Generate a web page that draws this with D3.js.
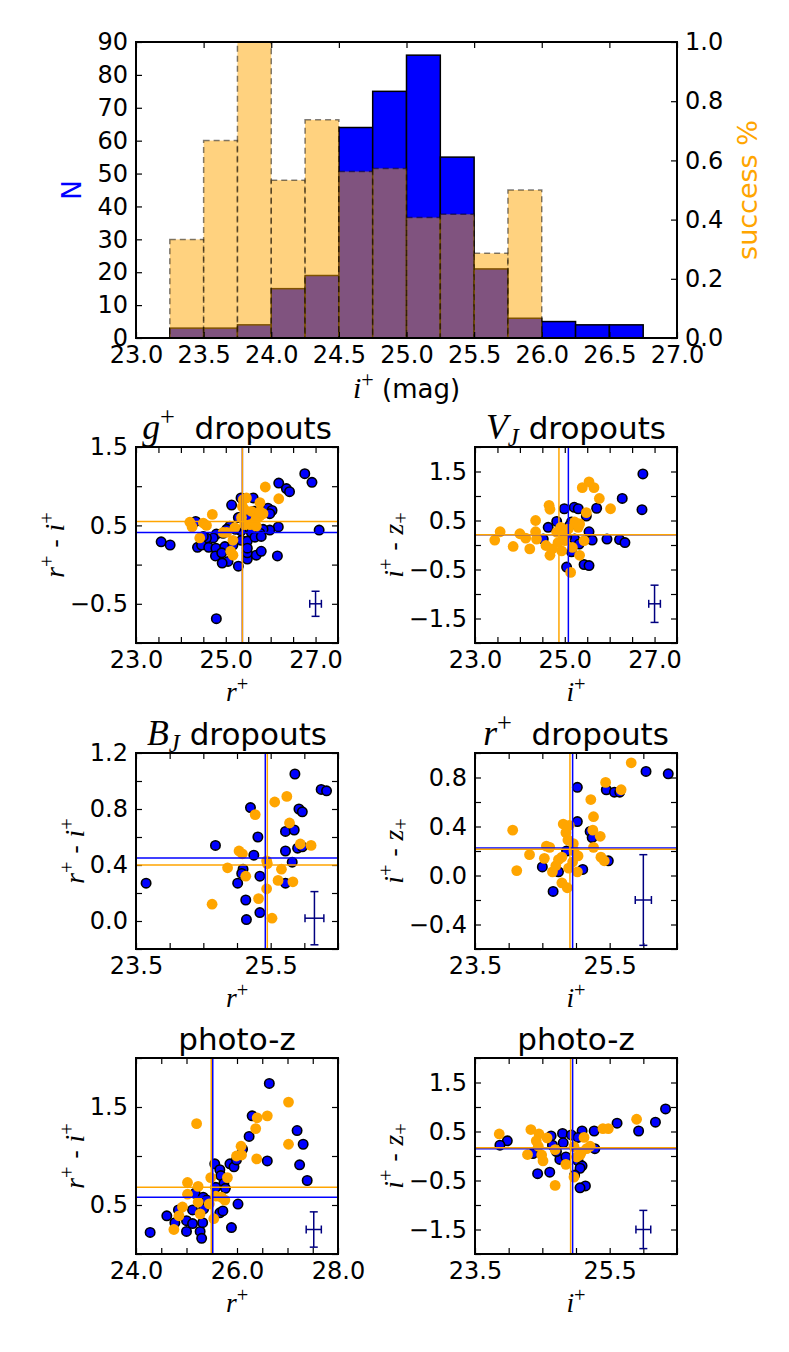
<!DOCTYPE html>
<html>
<head>
<meta charset="utf-8">
<script src="https://cdn.jsdelivr.net/npm/d3@7"></script>
<style>
body { margin: 0; background: #fff; }
svg { display: block; font-family: "DejaVu Sans", sans-serif; }
text { white-space: pre; }
.tick text { font-size: 24px; fill: #000; font-family: "DejaVu Sans", sans-serif; }
.tick line { stroke: #000; stroke-width: 1.2; }
</style>
</head>
<body>
<svg id="fig" width="789" height="1352"></svg>
<script>
// ---- histogram: i+ magnitude bins (left edge), counts and success fraction
var histBins = [23.25, 23.5, 23.75, 24.0, 24.25, 24.5, 24.75, 25.0, 25.25, 25.5, 25.75, 26.0, 26.25, 26.5];
var histBinWidth = 0.25;
var histN = [3, 3, 4, 15, 19, 64, 75, 86, 55, 21, 6, 5, 4, 4];
var histSuccess = [0.333, 0.667, 1.0, 0.533, 0.737, 0.5625, 0.573, 0.407, 0.418, 0.286, 0.5, 0, 0, 0];
var histXTicks = [23.0, 23.5, 24.0, 24.5, 25.0, 25.5, 26.0, 26.5, 27.0];
var histNTicks = [0, 10, 20, 30, 40, 50, 60, 70, 80, 90];
var histSTicks = [0.0, 0.2, 0.4, 0.6, 0.8, 1.0];

// ---- g+ dropouts (r+ vs r+ - i+)
var gdropBlue = [[26.76,1.16],[26.92,1.05],[26.18,1.04],[26.35,0.97],[26.42,0.93],[25.34,0.85],[25.13,0.76],[25.61,0.85],
  [25.94,0.72],[26.03,0.69],[25.98,0.65],[25.76,0.64],[25.63,0.68],[25.50,0.59],[25.28,0.60],[27.08,0.44],[26.17,0.48],
  [25.98,0.44],[25.83,0.45],[25.76,0.40],[25.57,0.41],[25.34,0.43],[25.22,0.45],[25.09,0.49],[25.02,0.45],[24.94,0.40],
  [24.79,0.39],[24.72,0.34],[24.57,0.34],[24.50,0.36],[24.33,0.55],[23.56,0.29],[23.76,0.25],[24.37,0.22],[24.46,0.25],
  [24.62,0.22],[24.78,0.21],[24.98,0.23],[25.16,0.25],[25.35,0.31],[25.48,0.30],[25.65,0.35],[25.79,0.36],[24.77,0.11],
  [24.91,0.15],[25.05,0.04],[24.92,0.02],[25.28,-0.02],[25.48,0.07],[25.48,0.15],[25.68,0.12],[25.79,0.17],[26.15,0.11],
  [24.79,-0.69],[25.48,0.21]];
var gdropOrange = [[25.88,0.99],[26.18,0.84],[25.76,0.79],[25.39,0.83],[25.46,0.85],[25.42,0.70],[25.57,0.68],[25.37,0.74],
  [25.68,0.59],[25.76,0.62],[25.65,0.55],[25.54,0.51],[25.42,0.51],[25.68,0.49],[25.35,0.60],[24.70,0.64],[24.20,0.54],
  [24.25,0.48],[24.50,0.53],[24.57,0.50],[25.20,0.47],[25.02,0.41],[25.16,0.31],[24.42,0.34],[25.11,0.17],[25.16,0.12],
  [25.76,0.68],[25.83,0.65],[24.94,0.41]];
var gdropMedians = { blueX: 25.37, blueY: 0.41, orangeX: 25.37, orangeY: 0.55 };
var gdropErr = [27.0, -0.5, 0.13, 0.16];

// ---- V_J dropouts (i+ vs i+ - z+)
var vjBlue = [[26.74,1.45],[26.72,0.72],[26.28,0.95],[25.71,0.75],[25.21,0.77],[25.30,0.74],[24.99,0.74],[25.48,0.59],
  [25.54,0.27],[25.15,0.47],[24.63,0.36],[24.82,0.48],[24.89,0.29],[25.94,0.12],[25.61,0.10],[26.22,0.11],[26.34,0.05],
  [25.22,0.12],[25.32,0.02],[25.15,-0.14],[25.43,-0.40],[25.54,-0.42],[25.04,-0.45],[24.52,0.12],[25.04,0.16],[25.11,0.40]];
var vjOrange = [[23.44,0.10],[23.56,0.27],[23.85,-0.03],[24.00,0.23],[24.13,0.14],[24.22,-0.08],[24.35,0.27],[24.37,0.12],
  [24.35,0.50],[24.65,0.81],[24.67,0.73],[24.58,-0.01],[24.67,-0.21],[24.72,-0.08],[24.82,0.26],[24.91,0.36],[24.96,0.19],
  [24.93,-0.12],[25.00,0.09],[24.85,0.05],[25.08,0.33],[25.17,-0.05],[25.22,0.47],[25.33,0.43],[25.39,1.17],[25.54,1.29],
  [25.65,1.17],[25.77,0.95],[26.02,0.74],[25.48,0.66],[25.33,-0.21],[25.13,-0.56],[25.43,0.09],[25.30,0.36]];
var vjMedians = { blueX: 25.08, blueY: 0.21, orangeX: 24.87, orangeY: 0.21 };
var vjErr = [27.0, -1.2, 0.13, 0.38];

// ---- B_J dropouts (r+ vs r+ - i+)
var bjBlue = [[23.65,0.27],[24.68,0.54],[25.20,0.81],[25.31,0.60],[25.25,0.47],[25.09,0.37],[25.07,0.34],[25.01,0.27],
  [25.34,0.32],[25.13,0.15],[25.14,0.01],[25.34,0.06],[25.86,1.05],[26.25,0.94],[26.33,0.93],[25.92,0.80],[25.97,0.78],
  [25.72,0.64],[25.85,0.65],[25.90,0.52],[25.97,0.53],[25.72,0.50],[25.82,0.42],[25.72,0.27]];
var bjOrange = [[24.63,0.12],[24.86,0.38],[25.03,0.50],[25.08,0.48],[25.13,0.32],[25.27,0.76],[25.32,0.16],[25.44,0.43],
  [25.45,0.41],[25.44,0.23],[25.52,0.02],[25.56,0.85],[25.74,0.89],[25.78,0.70],[25.66,0.37],[25.61,0.29],[25.83,0.28],
  [25.94,0.55],[26.10,0.54]];
var bjMedians = { blueX: 25.42, blueY: 0.45, orangeX: 25.45, orangeY: 0.40 };
var bjErr = [26.15, 0.02, 0.14, 0.19];

// ---- r+ dropouts (i+ vs i+ - z+)
var rdropBlue = [[26.04,0.85],[26.37,0.83],[25.02,0.72],[25.45,0.70],[25.57,0.68],[25.65,0.68],[25.02,0.44],[25.21,0.36],
  [25.24,0.31],[24.50,0.07],[24.74,0.03],[25.10,0.05],[25.48,0.12],[24.66,-0.13],[24.86,0.20]];
var rdropOrange = [[24.06,0.37],[24.12,0.04],[24.31,0.17],[24.53,0.14],[24.56,0.24],[24.61,0.23],[24.65,0.03],[24.70,0.08],
  [24.74,0.13],[24.79,0.15],[24.79,-0.06],[24.81,0.42],[24.85,0.35],[24.87,-0.10],[24.89,0.06],[24.88,0.29],[24.95,0.11],
  [24.96,0.26],[24.90,0.41],[24.97,0.20],[25.03,0.16],[25.02,0.03],[25.22,0.62],[25.26,0.48],[25.25,0.37],[25.26,0.23],
  [25.36,0.32],[25.37,0.15],[25.42,0.12],[25.44,0.76],[25.67,0.70],[25.82,0.92]];
var rdropMedians = { blueX: 24.95, blueY: 0.225, orangeX: 24.91, orangeY: 0.215 };
var rdropErr = [26.0, -0.2, 0.12, 0.37];

// ---- photo-z (r+ vs r+ - i+)
var pzLeftBlue = [[24.28,0.22],[24.61,0.39],[24.77,0.32],[24.84,0.45],[25.00,0.34],[25.00,0.23],[25.12,0.31],[25.12,0.45],
  [25.27,0.23],[25.30,0.16],[25.32,0.32],[25.34,0.46],[25.17,0.62],[25.33,0.58],[25.56,0.92],[25.66,0.86],[25.68,0.80],
  [25.74,0.72],[25.77,0.67],[25.58,0.68],[25.86,0.92],[25.94,0.89],[25.99,0.96],[26.02,0.51],[25.66,0.42],[25.72,0.44],
  [25.89,0.27],[26.24,1.20],[26.30,1.41],[26.64,1.74],[26.60,0.95],[27.19,1.26],[27.31,1.12],[27.24,0.91],[27.39,0.75],
  [26.11,1.07],[25.40,0.55]];
var pzLeftOrange = [[24.75,0.25],[24.85,0.39],[24.92,0.48],[25.02,0.73],[25.02,0.61],[25.20,1.33],[25.23,0.69],[25.23,0.53],
  [25.27,0.41],[25.45,0.51],[25.48,0.78],[25.54,0.36],[25.58,0.59],[25.69,0.58],[25.76,0.55],[25.81,0.78],[25.99,1.00],
  [26.09,1.01],[26.08,1.10],[26.37,1.28],[26.39,0.97],[26.40,1.39],[26.60,1.41],[27.02,1.55],[27.02,1.12]];
var pzLeftMedians = { blueX: 25.52, blueY: 0.58, orangeX: 25.49, orangeY: 0.68 };
var pzLeftErr = [27.52, 0.25, 0.15, 0.18];

// ---- photo-z (i+ vs i+ - z+)
var pzRightBlue = [[26.33,0.96],[26.18,0.69],[25.93,0.51],[25.61,0.67],[25.27,0.51],[25.09,0.51],[24.80,0.46],[24.93,0.43],
  [25.03,0.38],[24.63,0.41],[23.98,0.31],[23.87,0.22],[24.36,0.05],[24.65,0.22],[24.81,0.27],[25.28,0.15],[24.76,-0.07],
  [24.85,-0.02],[25.03,-0.10],[25.09,-0.20],[25.06,-0.25],[24.43,-0.36],[24.61,-0.33],[25.14,-0.61],[25.06,-0.65],
  [24.98,-0.39],[24.71,0.09]];
var pzRightOrange = [[23.86,0.45],[24.33,0.54],[24.45,0.45],[24.41,0.31],[24.44,0.20],[24.28,0.03],[24.49,0.02],[24.51,-0.10],
  [24.57,0.37],[24.69,0.13],[24.85,-0.17],[24.97,-0.43],[24.69,-0.60],[25.01,-0.02],[25.06,0.02],[25.12,0.38],[25.16,0.15],
  [25.21,0.20],[25.40,0.56],[25.48,0.56],[25.90,0.75],[24.97,0.19],[25.08,0.08]];
var pzRightMedians = { blueX: 24.95, blueY: 0.15, orangeX: 24.92, orangeY: 0.17 };
var pzRightErr = [26.0, -1.5, 0.11, 0.39];

// ---- axis ticks / labels for the scatter panels
var xTicksA = [23.0, 23.5, 24.0, 24.5, 25.0, 25.5, 26.0, 26.5, 27.0, 27.5], xLabelsA = [23.0, 25.0, 27.0];
var xTicksB = [23.5, 24.0, 24.5, 25.0, 25.5, 26.0, 26.5], xLabelsB = [23.5, 25.5];
var xTicksC = [24.0, 24.5, 25.0, 25.5, 26.0, 26.5, 27.0, 27.5, 28.0], xLabelsC = [24.0, 26.0, 28.0];
var yTicksG = [-1.0, -0.5, 0.0, 0.5, 1.0, 1.5], yLabelsG = [-0.5, 0.5, 1.5];
var yTicksW = [-2.0, -1.5, -1.0, -0.5, 0.0, 0.5, 1.0, 1.5, 2.0], yLabelsW = [-1.5, -0.5, 0.5, 1.5];
var yTicksBJ = [-0.2, 0.0, 0.2, 0.4, 0.6, 0.8, 1.0, 1.2], yLabelsBJ = [0.0, 0.4, 0.8, 1.2];
var yTicksR = [-0.6, -0.4, -0.2, 0.0, 0.2, 0.4, 0.6, 0.8, 1.0], yLabelsR = [-0.4, 0.0, 0.4, 0.8];
var yTicksPZ = [0.0, 0.5, 1.0, 1.5, 2.0], yLabelsPZ = [0.5, 1.5];

var BLUE = "#0000ff", ORANGE = "#ffa500", NAVY = "#000080";
var MATH = "'Liberation Serif', 'DejaVu Serif', serif";
var svg = d3.select("#fig");
var fmt = d3.format(".1f");
var TICK = 6;

function has(list, v) { return list.some(function (l) { return Math.abs(l - v) < 1e-6; }); }

// text with simple math bits: [string, kind] kind: n normal, m math italic, sup, sub, msub
function mathText(sel, parts, size) {
  var shift = 0;
  parts.forEach(function (p) {
    var kind = p[1] || "n";
    var t = sel.append("tspan").text(p[0]);
    var target = 0;
    if (kind === "sup") target = -0.42 * size;
    if (kind === "sub" || kind === "msub") target = 0.22 * size;
    if (target - shift !== 0) t.attr("dy", target - shift);
    shift = target;
    if (kind === "m") t.attr("font-family", MATH).attr("font-style", "italic").attr("font-size", size * 1.15);
    if (kind === "sup") t.attr("font-family", MATH).attr("font-size", size * 0.85);
    if (kind === "sub") t.attr("font-family", MATH).attr("font-size", size * 0.85);
    if (kind === "msub") t.attr("font-family", MATH).attr("font-style", "italic").attr("font-size", size * 0.8);
  });
  return sel;
}

// ================= histogram =================
(function () {
  var L = 136, R = 677, T = 42, B = 338;
  var x = d3.scaleLinear().domain([23.0, 27.0]).range([L, R]);
  var yN = d3.scaleLinear().domain([0, 90]).range([B, T]);
  var yS = d3.scaleLinear().domain([0, 1.0]).range([B, T]);
  var g = svg.append("g");

  var bins = histBins.map(function (b, i) { return { x0: b, n: histN[i], s: histSuccess[i] }; });

  g.selectAll("rect.nbar").data(bins).enter().append("rect")
    .attr("class", "nbar")
    .attr("x", function (d) { return x(d.x0); })
    .attr("width", function (d) { return x(d.x0 + histBinWidth) - x(d.x0); })
    .attr("y", function (d) { return yN(d.n); })
    .attr("height", function (d) { return B - yN(d.n); })
    .attr("fill", BLUE).attr("stroke", "#000").attr("stroke-width", 1.5);

  g.selectAll("rect.sbar").data(bins.filter(function (d) { return d.s > 0; })).enter().append("rect")
    .attr("class", "sbar")
    .attr("x", function (d) { return x(d.x0); })
    .attr("width", function (d) { return x(d.x0 + histBinWidth) - x(d.x0); })
    .attr("y", function (d) { return yS(d.s); })
    .attr("height", function (d) { return B - yS(d.s); })
    .attr("fill", ORANGE).attr("fill-opacity", 0.5)
    .attr("stroke", "#000").attr("stroke-opacity", 0.5)
    .attr("stroke-width", 1.5).attr("stroke-dasharray", "6,4");

  g.append("g").attr("transform", "translate(0," + B + ")")
    .call(d3.axisBottom(x).tickValues(histXTicks).tickSizeInner(-TICK).tickSizeOuter(0).tickPadding(8).tickFormat(fmt));
  g.append("g").attr("transform", "translate(0," + T + ")")
    .call(d3.axisTop(x).tickValues(histXTicks).tickSizeInner(-TICK).tickSizeOuter(0).tickFormat(""));
  g.append("g").attr("transform", "translate(" + L + ",0)")
    .call(d3.axisLeft(yN).tickValues(histNTicks).tickSizeInner(-TICK).tickSizeOuter(0).tickPadding(8).tickFormat(d3.format("d")));
  g.append("g").attr("transform", "translate(" + R + ",0)")
    .call(d3.axisRight(yS).tickValues(histSTicks).tickSizeInner(-TICK).tickSizeOuter(0).tickPadding(8).tickFormat(fmt));
  g.selectAll(".domain").remove();

  g.append("rect").attr("x", L).attr("y", T).attr("width", R - L).attr("height", B - T)
    .attr("fill", "none").attr("stroke", "#000").attr("stroke-width", 2);

  mathText(g.append("text").attr("x", (L + R) / 2).attr("y", B + 60).attr("text-anchor", "middle").attr("font-size", 26),
    [["i", "m"], ["+", "sup"], [" (mag)"]], 26);
  g.append("text").attr("transform", "translate(81," + ((T + B) / 2) + ") rotate(-90)")
    .attr("text-anchor", "middle").attr("font-size", 26).attr("fill", BLUE).text("N");
  g.append("text").attr("transform", "translate(757," + ((T + B) / 2) + ") rotate(-90)")
    .attr("text-anchor", "middle").attr("font-size", 27).attr("fill", ORANGE).text("success %");
})();

// ================= scatter panels =================
var PW = 202, PH = 196;

function panel(p) {
  var L = p.left, T = p.top, R = L + PW, B = T + PH;
  var x = d3.scaleLinear().domain(p.xDomain).range([L, R]);
  var y = d3.scaleLinear().domain(p.yDomain).range([B, T]);
  var g = svg.append("g");
  var clipId = "clip" + p.id;
  g.append("clipPath").attr("id", clipId).append("rect")
    .attr("x", L).attr("y", T).attr("width", PW).attr("height", PH);

  var xf = function (v) { return has(p.xLabels, v) ? fmt(v) : ""; };
  var yf = function (v) { return has(p.yLabels, v) ? fmt(v) : ""; };
  g.append("g").attr("transform", "translate(0," + B + ")")
    .call(d3.axisBottom(x).tickValues(p.xTicks).tickSizeInner(-TICK).tickSizeOuter(0).tickPadding(8).tickFormat(xf));
  g.append("g").attr("transform", "translate(0," + T + ")")
    .call(d3.axisTop(x).tickValues(p.xTicks).tickSizeInner(-TICK).tickSizeOuter(0).tickFormat(""));
  var yAx = g.append("g").attr("transform", "translate(" + L + ",0)")
    .call(d3.axisLeft(y).tickValues(p.yTicks).tickSizeInner(-TICK).tickSizeOuter(0).tickPadding(8).tickFormat(yf));
  g.append("g").attr("transform", "translate(" + R + ",0)")
    .call(d3.axisRight(y).tickValues(p.yTicks).tickSizeInner(-TICK).tickSizeOuter(0).tickFormat(""));
  g.selectAll(".domain").remove();

  var plot = g.append("g").attr("clip-path", "url(#" + clipId + ")");
  plot.selectAll("circle.b").data(p.blue).enter().append("circle")
    .attr("class", "b")
    .attr("cx", function (d) { return x(d[0]); })
    .attr("cy", function (d) { return y(d[1]); })
    .attr("r", 4.7).attr("fill", BLUE).attr("stroke", "#000").attr("stroke-width", 1.6);
  plot.selectAll("circle.o").data(p.orange).enter().append("circle")
    .attr("class", "o")
    .attr("cx", function (d) { return x(d[0]); })
    .attr("cy", function (d) { return y(d[1]); })
    .attr("r", 5.4).attr("fill", ORANGE);

  var m = p.med;
  plot.append("line").attr("x1", L).attr("x2", R).attr("y1", y(m.blueY)).attr("y2", y(m.blueY))
    .attr("stroke", BLUE).attr("stroke-width", 1.5);
  plot.append("line").attr("y1", T).attr("y2", B).attr("x1", x(m.blueX)).attr("x2", x(m.blueX))
    .attr("stroke", BLUE).attr("stroke-width", 1.5);
  plot.append("line").attr("x1", L).attr("x2", R).attr("y1", y(m.orangeY)).attr("y2", y(m.orangeY))
    .attr("stroke", ORANGE).attr("stroke-width", 1.5);
  plot.append("line").attr("y1", T).attr("y2", B).attr("x1", x(m.orangeX)).attr("x2", x(m.orangeX))
    .attr("stroke", ORANGE).attr("stroke-width", 1.5);

  // error bar
  var e = p.err, cap = 4;
  var eb = plot.append("g").attr("stroke", NAVY).attr("stroke-width", 1.5).attr("fill", "none");
  eb.append("line").attr("x1", x(e[0] - e[2])).attr("x2", x(e[0] + e[2])).attr("y1", y(e[1])).attr("y2", y(e[1]));
  eb.append("line").attr("x1", x(e[0])).attr("x2", x(e[0])).attr("y1", y(e[1] - e[3])).attr("y2", y(e[1] + e[3]));
  eb.append("line").attr("x1", x(e[0] - e[2])).attr("x2", x(e[0] - e[2])).attr("y1", y(e[1]) - cap).attr("y2", y(e[1]) + cap);
  eb.append("line").attr("x1", x(e[0] + e[2])).attr("x2", x(e[0] + e[2])).attr("y1", y(e[1]) - cap).attr("y2", y(e[1]) + cap);
  eb.append("line").attr("x1", x(e[0]) - cap).attr("x2", x(e[0]) + cap).attr("y1", y(e[1] - e[3])).attr("y2", y(e[1] - e[3]));
  eb.append("line").attr("x1", x(e[0]) - cap).attr("x2", x(e[0]) + cap).attr("y1", y(e[1] + e[3])).attr("y2", y(e[1] + e[3]));

  g.append("rect").attr("x", L).attr("y", T).attr("width", PW).attr("height", PH)
    .attr("fill", "none").attr("stroke", "#000").attr("stroke-width", 2);

  // title
  mathText(g.append("text").attr("x", L + PW / 2).attr("y", T - 8).attr("text-anchor", "middle").attr("font-size", 31),
    p.title, 31);
  // x label
  mathText(g.append("text").attr("x", L + PW / 2).attr("y", B + 58).attr("text-anchor", "middle").attr("font-size", 24),
    p.xLabel, 24);
  // y label placed left of the tick labels
  var yb = yAx.node().getBBox();
  mathText(g.append("text").attr("transform", "translate(" + (L + yb.x - 6) + "," + (T + PH / 2) + ") rotate(-90)")
    .attr("text-anchor", "middle").attr("font-size", 24), p.yLabel, 24);
}

var colLeft = [136, 475], rowTop = [447, 753, 1058];
var labR = [["r", "m"], ["+", "sup"]], labI = [["i", "m"], ["+", "sup"]];
var labRI = [["r", "m"], ["+", "sup"], [" - "], ["i", "m"], ["+", "sup"]];
var labIZ = [["i", "m"], ["+", "sup"], [" - "], ["z", "m"], ["+", "sub"]];

panel({ id: 1, left: colLeft[0], top: rowTop[0], xDomain: [23.0, 27.5], yDomain: [-1.0, 1.5],
  xTicks: xTicksA, xLabels: xLabelsA, yTicks: yTicksG, yLabels: yLabelsG,
  blue: gdropBlue, orange: gdropOrange, med: gdropMedians, err: gdropErr,
  title: [["g", "m"], ["+", "sup"], ["  dropouts"]], xLabel: labR, yLabel: labRI });
panel({ id: 2, left: colLeft[1], top: rowTop[0], xDomain: [23.0, 27.5], yDomain: [-2.0, 2.0],
  xTicks: xTicksA, xLabels: xLabelsA, yTicks: yTicksW, yLabels: yLabelsW,
  blue: vjBlue, orange: vjOrange, med: vjMedians, err: vjErr,
  title: [["V", "m"], ["J", "msub"], [" dropouts"]], xLabel: labI, yLabel: labIZ });
panel({ id: 3, left: colLeft[0], top: rowTop[1], xDomain: [23.5, 26.5], yDomain: [-0.2, 1.2],
  xTicks: xTicksB, xLabels: xLabelsB, yTicks: yTicksBJ, yLabels: yLabelsBJ,
  blue: bjBlue, orange: bjOrange, med: bjMedians, err: bjErr,
  title: [["B", "m"], ["J", "msub"], [" dropouts"]], xLabel: labR, yLabel: labRI });
panel({ id: 4, left: colLeft[1], top: rowTop[1], xDomain: [23.5, 26.5], yDomain: [-0.6, 1.0],
  xTicks: xTicksB, xLabels: xLabelsB, yTicks: yTicksR, yLabels: yLabelsR,
  blue: rdropBlue, orange: rdropOrange, med: rdropMedians, err: rdropErr,
  title: [["r", "m"], ["+", "sup"], ["  dropouts"]], xLabel: labI, yLabel: labIZ });
panel({ id: 5, left: colLeft[0], top: rowTop[2], xDomain: [24.0, 28.0], yDomain: [0.0, 2.0],
  xTicks: xTicksC, xLabels: xLabelsC, yTicks: yTicksPZ, yLabels: yLabelsPZ,
  blue: pzLeftBlue, orange: pzLeftOrange, med: pzLeftMedians, err: pzLeftErr,
  title: [["photo-z"]], xLabel: labR, yLabel: labRI });
panel({ id: 6, left: colLeft[1], top: rowTop[2], xDomain: [23.5, 26.5], yDomain: [-2.0, 2.0],
  xTicks: xTicksB, xLabels: xLabelsB, yTicks: yTicksW, yLabels: yLabelsW,
  blue: pzRightBlue, orange: pzRightOrange, med: pzRightMedians, err: pzRightErr,
  title: [["photo-z"]], xLabel: labI, yLabel: labIZ });
</script>
</body>
</html>
